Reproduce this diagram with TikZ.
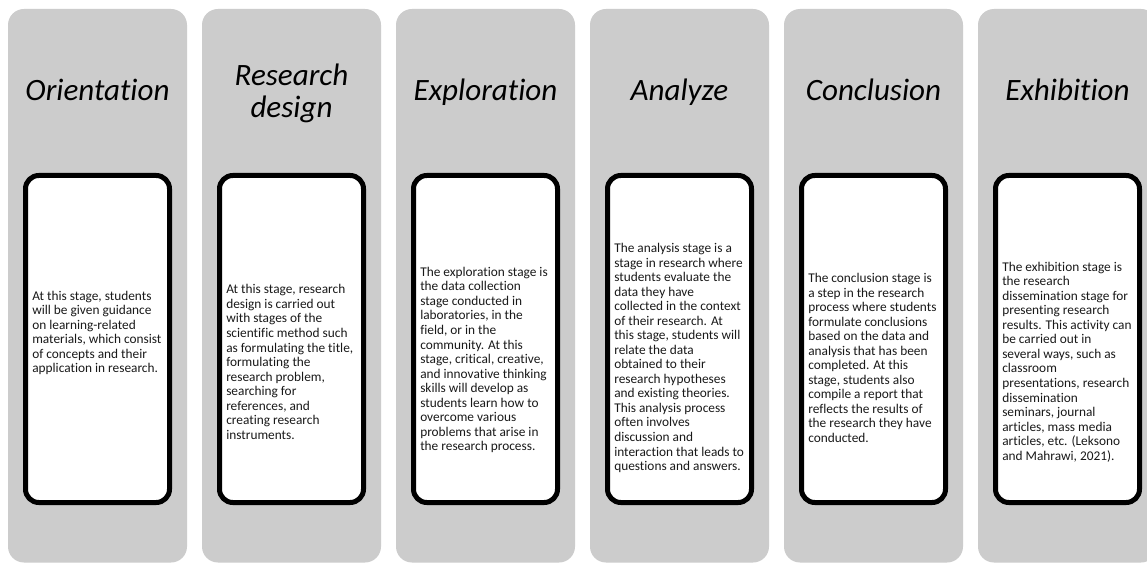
\documentclass[tikz,border=0pt]{standalone}
\usepackage{fontspec}
\setmainfont{Carlito}[Ligatures=NoCommon]
\definecolor{panelgray}{RGB}{204,204,204}
\tikzset{
  panelbox/.style={fill=panelgray, draw=none, rounded corners=12pt},
  innerbox/.style={fill=white, draw=black, line width=3.75pt, rounded corners=10pt},
  titletext/.style={font=\fontsize{23.3pt}{24pt}\selectfont\itshape, align=center, inner sep=0pt, text=black},
  bodytext/.style={font=\fontsize{10pt}{10.9pt}\selectfont, align=left, inner sep=0pt, anchor=west, text=black!90},
}
\begin{document}
\begin{tikzpicture}[x=0.75pt, y=-0.75pt]
\useasboundingbox (0,0) rectangle (1147,563);
\clip (0,0) rectangle (1147,563);
\fill[white] (0,0) rectangle (1147,563);
\foreach \i in {0,...,5}{
  \pgfmathsetmacro{\px}{8+194*\i}
  \draw[panelbox] (\px,9) rectangle ++(179,553.5);
  \draw[innerbox] (\px+17.5,175.5) rectangle ++(144,327);
}
\node[titletext, anchor=base] (t1) at (97.5,101) {Orientation};
\node[titletext] (t2) at (291.5,93) {Research\\design};
\node[titletext, anchor=base] (t3) at (485.5,101) {Exploration};
\node[titletext, anchor=base] (t4) at (679.5,101) {Analyze};
\node[titletext, anchor=base] (t5) at (873.5,101) {Conclusion};
\node[titletext, anchor=base] (t6) at (1067.5,101) {Exhibition};

\node[bodytext] (b1) at (32,333) {At this stage, students\\will be given guidance\\on learning-related\\materials, which consist\\of concepts and their\\application in research.};
\node[bodytext] (b2) at (226,362) {At this stage, research\\design is carried out\\with stages of the\\scientific method such\\as formulating the title,\\formulating the\\research problem,\\searching for\\references, and\\creating research\\instruments.};
\node[bodytext] (b3) at (420,360) {The exploration stage is\\the data collection\\stage conducted in\\laboratories, in the\\field, or in the\\community. At this\\stage, critical, creative,\\and innovative thinking\\skills will develop as\\students learn how to\\overcome various\\problems that arise in\\the research process.};
\node[bodytext] (b4) at (614,358) {The analysis stage is a\\stage in research where\\students evaluate the\\data they have\\collected in the context\\of their research. At\\this stage, students will\\relate the data\\obtained to their\\research hypotheses\\and existing theories.\\This analysis process\\often involves\\discussion and\\interaction that leads to\\questions and answers.};
\node[bodytext] (b5) at (808,358) {The conclusion stage is\\a step in the research\\process where students\\formulate conclusions\\based on the data and\\analysis that has been\\completed. At this\\stage, students also\\compile a report that\\reflects the results of\\the research they have\\conducted.};
\node[bodytext] (b6) at (1002,362) {The exhibition stage is\\the research\\dissemination stage for\\presenting research\\results. This activity can\\be carried out in\\several ways, such as\\classroom\\presentations, research\\dissemination\\seminars, journal\\articles, mass media\\articles, etc. (Leksono\\and Mahrawi, 2021).};
\end{tikzpicture}
\end{document}
